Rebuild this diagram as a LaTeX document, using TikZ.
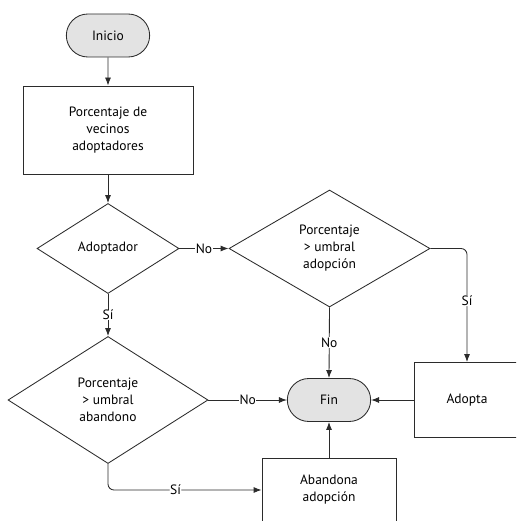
\documentclass[tikz,border=0pt]{standalone}
\usepackage{fontspec}
\setmainfont{PT Sans}
\usetikzlibrary{arrows.meta, positioning, shapes.geometric, shapes.misc}
\definecolor{cline}{HTML}{2B2B2B}
\definecolor{cfill}{HTML}{E3E3E3}
\tikzset{
  every picture/.style={font=\fontsize{13.5}{17}\selectfont, line width=0.85pt},
  term/.style={rounded rectangle, draw=cline, fill=cfill, minimum width=90pt, minimum height=43pt},
  procbox/.style={draw=cline, fill=white, align=center, inner sep=4pt},
  decision/.style={diamond, draw=cline, fill=white, align=center, aspect=2, inner sep=0pt},
  arrow/.style={-{Latex[length=8pt, width=6pt]}, draw=cline},
  answer/.style={fill=white, inner sep=0.5pt},
}

\begin{document}
\begin{tikzpicture}[x=1pt, y=-1pt]
  \useasboundingbox (0,0) rectangle (516,521);
  \clip (0,0) rectangle (516,521);

  \node[term] (inicio) at (108,35.5) {Inicio};
  \node[procbox, minimum width=170pt, minimum height=88pt] (vecinos) at (108,130) {Porcentaje de\\ vecinos\\ adoptadores};
  \node[decision, minimum width=142pt, minimum height=90pt] (adoptador) at (108,248.5) {Adoptador};
  \node[decision, minimum width=201pt, minimum height=117pt] (umbraladop) at (329.5,248.5) {Porcentaje\\ > umbral\\ adopción};
  \node[decision, minimum width=200pt, minimum height=127pt] (umbralaband) at (108,400) {Porcentaje\\ > umbral\\ abandono};
  \node[term] (fin) at (329,400) {Fin};
  \node[procbox, minimum width=106pt, minimum height=75pt] (adopta) at (467,400) {Adopta};
  \node[procbox, minimum width=134pt, minimum height=64pt] (abandona) at (329,490) {Abandona\\ adopción};

  \draw[arrow] (inicio) -- (vecinos);
  \draw[arrow] (vecinos) -- (adoptador);
  \draw[arrow] (adoptador.east) -- node[answer] {No} (umbraladop.west);
  \draw[arrow] (adoptador.south) -- node[answer] {Sí} (umbralaband.north);
  \draw[arrow, rounded corners=6pt] (umbraladop.east) -| node[answer, pos=0.73] {Sí} (adopta.north);
  \draw[arrow] (umbraladop.south) -- node[answer] {No} (fin.north);
  \draw[arrow] (umbralaband.east) -- node[answer] {No} (fin.west);
  \draw[arrow] (adopta.west) -- (fin.east);
  \draw[arrow] (abandona.north) -- (fin.south);
  \draw[arrow, rounded corners=6pt] (umbralaband.south) |- node[answer, pos=0.72] {Sí} (abandona.west);
\end{tikzpicture}
\end{document}
